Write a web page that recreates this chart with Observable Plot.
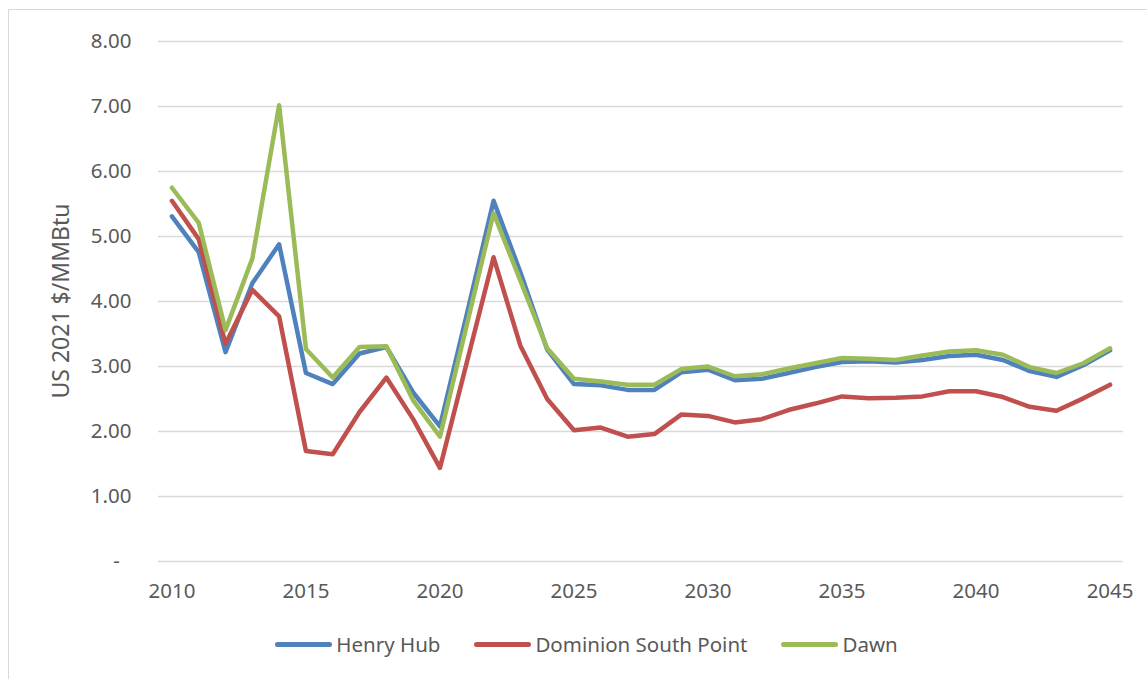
<!DOCTYPE html>
<html>
<head>
<meta charset="utf-8">
<script src="https://cdn.jsdelivr.net/npm/d3@7"></script>
<script src="https://cdn.jsdelivr.net/npm/@observablehq/plot@0.6"></script>
<style>
  body { margin: 0; background: #fff; }
  #wrap { position: relative; width: 1147px; height: 679px; overflow: hidden; font-family: "Noto Sans", sans-serif; color: #595959; }
  #frame { position: absolute; left: 8px; top: 9px; width: 1200px; height: 700px; border-left: 1.3px solid #d9d9d9; border-top: 1.3px solid #d9d9d9; }
  #chart { position: absolute; left: 0; top: 0; }
  #ytitle { position: absolute; left: 60px; top: 301px; transform: translate(-50%, -50%) rotate(-90deg); font-size: 23px; white-space: nowrap; }
  #legend { position: absolute; top: 630px; left: 13px; width: 1147px; display: flex; justify-content: center; font-size: 20.5px; }
  .item { display: flex; align-items: center; margin: 0 17px; }
  .sw { width: 57px; height: 5px; border-radius: 3px; margin-right: 4px; }
</style>
</head>
<body>
<div id="wrap">
  <div id="frame"></div>
  <div id="chart"></div>
  <div id="ytitle">US 2021 $/MMBtu</div>
  <div id="legend"></div>
</div>
<script>
const years = [2010,2011,2012,2013,2014,2015,2016,2017,2018,2019,2020,2021,2022,2023,2024,2025,2026,2027,2028,2029,2030,2031,2032,2033,2034,2035,2036,2037,2038,2039,2040,2041,2042,2043,2044,2045];
const henryHub = [5.31,4.76,3.22,4.28,4.88,2.90,2.73,3.20,3.30,2.60,2.08,3.80,5.55,4.45,3.26,2.73,2.71,2.64,2.64,2.91,2.95,2.79,2.81,2.90,2.99,3.07,3.08,3.06,3.10,3.16,3.18,3.10,2.93,2.84,3.02,3.25];
const dominionSouthPoint = [5.55,4.96,3.35,4.18,3.77,1.70,1.65,2.30,2.83,2.19,1.44,3.06,4.68,3.32,2.50,2.02,2.06,1.92,1.96,2.26,2.24,2.14,2.19,2.33,2.43,2.54,2.51,2.52,2.54,2.62,2.62,2.53,2.38,2.32,2.51,2.72];
const dawn = [5.75,5.21,3.56,4.66,7.02,3.27,2.83,3.30,3.31,2.48,1.92,3.64,5.36,4.32,3.28,2.81,2.77,2.72,2.72,2.96,3.00,2.85,2.88,2.97,3.05,3.13,3.12,3.10,3.17,3.23,3.25,3.18,2.99,2.90,3.05,3.28];
const seriesNames = ["Henry Hub", "Dominion South Point", "Dawn"];
const seriesColors = ["#4f81bd", "#c0504d", "#9bbb59"];
const yTicks = [0,1,2,3,4,5,6,7,8];
const xTicks = [2010,2015,2020,2025,2030,2035,2040,2045];

const seriesValues = [henryHub, dominionSouthPoint, dawn];
const rows = [];
seriesNames.forEach((name, i) => {
  years.forEach((yr, j) => rows.push({series: name, year: yr, value: seriesValues[i][j]}));
});

const chart = Plot.plot({
  width: 1147,
  height: 610,
  marginTop: 41,
  marginBottom: 49,
  marginLeft: 158,
  marginRight: 24,
  style: { fontFamily: "Noto Sans, sans-serif", fontSize: "20.5px", color: "#595959", background: "transparent" },
  x: { domain: [2009.5, 2045.5], label: null },
  y: { domain: [0, 8], label: null },
  color: { domain: seriesNames, range: seriesColors },
  marks: [
    Plot.ruleY(yTicks, { stroke: "#d9d9d9", strokeWidth: 1.3 }),
    Plot.axisY(yTicks, { tickSize: 0, tickPadding: 27, tickFormat: d => d === 0 ? "-\u2007" : d.toFixed(2), label: null, fill: "#595959" }),
    Plot.axisX(xTicks, { tickSize: 0, tickPadding: 22, tickFormat: d => String(d), label: null, fill: "#595959" }),
    Plot.line(rows, { x: "year", y: "value", z: "series", stroke: "series", strokeWidth: 4.5, strokeLinejoin: "round", strokeLinecap: "round" })
  ]
});
document.getElementById("chart").appendChild(chart);

const legend = document.getElementById("legend");
seriesNames.forEach((name, i) => {
  const it = document.createElement("div");
  it.className = "item";
  const sw = document.createElement("div");
  sw.className = "sw";
  sw.style.background = seriesColors[i];
  const tx = document.createElement("span");
  tx.textContent = name;
  it.appendChild(sw);
  it.appendChild(tx);
  legend.appendChild(it);
});
</script>
</body>
</html>
